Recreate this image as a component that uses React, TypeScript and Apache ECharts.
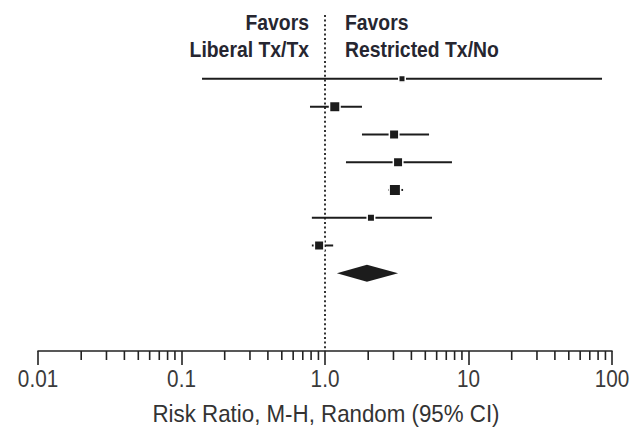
import React, { useEffect, useRef } from "react";
import * as echarts from "echarts";

// Study rows (top to bottom): lower CI, upper CI, point estimate, marker size (px)
const studyLower = [0.139, 0.786, 1.81, 1.4, 2.75, 0.81, 0.81];
const studyUpper = [85.2, 1.81, 5.31, 7.67, 3.5, 5.57, 1.14];
const studyEstimate = [3.44, 1.17, 3.03, 3.23, 3.07, 2.09, 0.91];
const markerSize = [5, 9, 8, 8, 10, 6, 8];

// Pooled estimate (diamond)
const pooledLower = 1.21;
const pooledEstimate = 1.96;
const pooledUpper = 3.23;

// Axis ticks
const majorTicks = [0.01, 0.1, 1, 10, 100];
const tickLabels = ["0.01", "0.1", "1.0", "10", "100"];
const minorMultipliers = [2, 3, 4, 5, 6, 7, 8, 9];
const minorTicks = majorTicks
  .slice(0, 4)
  .flatMap((d) => minorMultipliers.map((m) => d * m));

const headerLeft = ["Favors", "Liberal Tx/Tx"];
const headerRight = ["Favors", "Restricted Tx/No"];
const axisTitle = "Risk Ratio, M-H, Random (95% CI)";

const Y_MIN = -1.3;
const Y_MAX = 10.8;
const FONT = '"Liberation Sans", Arial, sans-serif';
const INK = "#1c1c1c";

export default function App() {
  const ref = useRef<HTMLDivElement>(null);

  useEffect(() => {
    document.body.style.margin = "0";
    if (!ref.current) return;
    const chart = echarts.init(ref.current, null, { renderer: "svg" });

    const studyData = studyEstimate.map((e, i) => [
      studyLower[i],
      studyUpper[i],
      e,
      i + 1,
      markerSize[i],
    ]);

    const headerText = (t: string, i: number, x: number, align: string) => ({
      type: "text",
      x,
      y: 22 + i * 27,
      scaleX: 0.88,
      style: {
        text: t,
        align,
        verticalAlign: "middle",
        fontFamily: FONT,
        fontWeight: "bold",
        fontSize: 22,
        fill: "#262630",
      },
    });

    const option: any = {
      animation: false,
      backgroundColor: "#ffffff",
      grid: {
        left: 38,
        right: 20,
        top: 15,
        bottom: 77,
        containLabel: false,
        outerBoundsMode: "none",
      },
      xAxis: {
        type: "log",
        logBase: 10,
        min: 0.01,
        max: 100,
        splitNumber: 4,
        axisLine: {
          onZero: false,
          lineStyle: { color: "#222222", width: 1.6 },
        },
        axisTick: {
          show: true,
          inside: false,
          length: 14,
          lineStyle: { color: "#222222", width: 1.6 },
        },
        axisLabel: { show: false },
        splitLine: { show: false },
        minorTick: { show: false },
      },
      yAxis: {
        type: "value",
        min: Y_MIN,
        max: Y_MAX,
        inverse: true,
        show: false,
        splitLine: { show: false },
      },
      graphic: [
        ...headerLeft.map((t, i) => headerText(t, i, 309, "right")),
        ...headerRight.map((t, i) => headerText(t, i, 345, "left")),
        {
          type: "text",
          x: 326,
          y: 414,
          scaleX: 0.93,
          style: {
            text: axisTitle,
            align: "center",
            verticalAlign: "middle",
            fontFamily: FONT,
            fontSize: 24,
            fill: "#333333",
          },
        },
      ],
      series: [
        {
          // reference (no effect) line at 1.0
          type: "line",
          data: [
            [1, Y_MIN],
            [1, Y_MAX],
          ],
          symbol: "none",
          silent: true,
          z: 1,
          lineStyle: { color: "#333333", width: 2, type: [2, 2.6] },
        },
        {
          // minor ticks on the log axis
          type: "custom",
          clip: false,
          silent: true,
          data: minorTicks.map((v) => [v]),
          renderItem: (params: any, api: any) => {
            const p = api.coord([api.value(0), Y_MAX]);
            return {
              type: "line",
              shape: { x1: p[0], y1: p[1], x2: p[0], y2: p[1] + 9 },
              style: { stroke: "#222222", lineWidth: 1.6 },
            };
          },
        },
        {
          // major tick labels, placed by the log axis
          type: "custom",
          clip: false,
          silent: true,
          data: majorTicks.map((v, i) => [v, i]),
          renderItem: (params: any, api: any) => {
            const p = api.coord([api.value(0), Y_MAX]);
            return {
              type: "text",
              x: p[0],
              y: p[1] + 28,
              scaleX: 0.9,
              style: {
                text: tickLabels[api.value(1)],
                align: "center",
                verticalAlign: "middle",
                fontFamily: FONT,
                fontSize: 23,
                fill: "#3a3a3a",
              },
            };
          },
        },
        {
          // study confidence intervals and weight squares
          type: "custom",
          clip: false,
          z: 3,
          data: studyData,
          renderItem: (params: any, api: any) => {
            const row = api.value(3);
            const lo = api.coord([api.value(0), row]);
            const hi = api.coord([api.value(1), row]);
            const c = api.coord([api.value(2), row]);
            const s = api.value(4) + 1.5;
            return {
              type: "group",
              children: [
                {
                  type: "line",
                  shape: { x1: lo[0], y1: lo[1], x2: hi[0], y2: hi[1] },
                  style: { stroke: INK, lineWidth: 2 },
                },
                {
                  type: "rect",
                  shape: { x: c[0] - s / 2, y: c[1] - s / 2, width: s, height: s },
                  style: { fill: INK, stroke: "#ffffff", lineWidth: 1.5 },
                },
              ],
            };
          },
        },
        {
          // pooled diamond
          type: "custom",
          clip: false,
          z: 3,
          data: [[pooledLower, pooledEstimate, pooledUpper, 8]],
          renderItem: (params: any, api: any) => {
            const row = api.value(3);
            const l = api.coord([api.value(0), row]);
            const m = api.coord([api.value(1), row]);
            const r = api.coord([api.value(2), row]);
            const h = 8.5;
            return {
              type: "polygon",
              shape: {
                points: [
                  [l[0], l[1]],
                  [m[0], m[1] - h],
                  [r[0], r[1]],
                  [m[0], m[1] + h],
                ],
              },
              style: { fill: INK },
            };
          },
        },
      ],
    };

    chart.setOption(option);
    return () => chart.dispose();
  }, []);

  return <div ref={ref} style={{ width: 632, height: 428 }} />;
}
